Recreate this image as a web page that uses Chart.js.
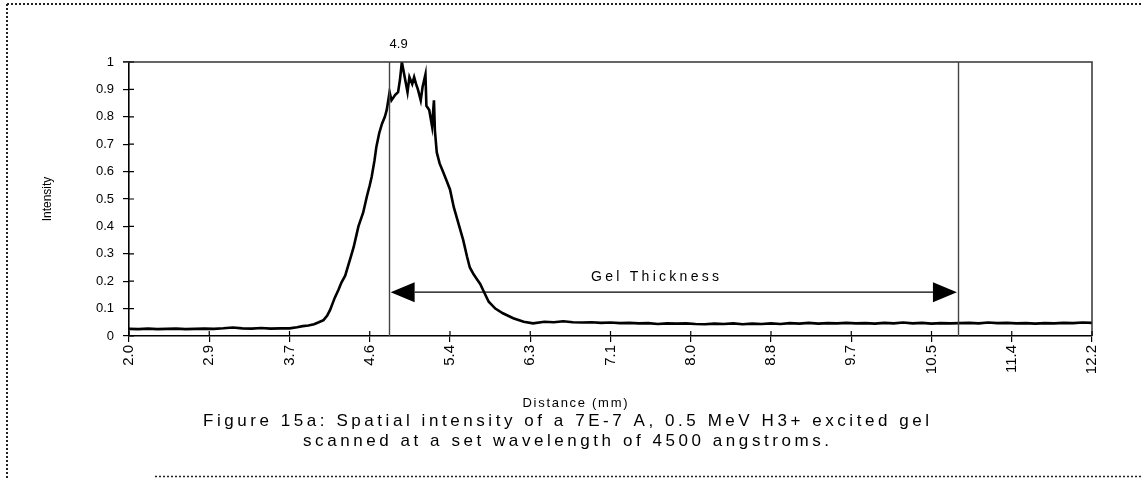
<!DOCTYPE html>
<html>
<head>
<meta charset="utf-8">
<script src="https://cdn.jsdelivr.net/npm/chart.js@4.4.1/dist/chart.umd.min.js"></script>
<style>
  html, body { margin: 0; padding: 0; background: #ffffff; }
  #wrap { position: relative; width: 1143px; height: 478px; }
  canvas { display: block; }
</style>
</head>
<body>
<div id="wrap"><canvas id="c" width="1143" height="478"></canvas></div>
<script>
// ---------- DATA ----------
const distance = [
  2.0, 2.1, 2.2, 2.3, 2.4, 2.5, 2.6, 2.7, 2.8, 2.9, 3.0, 3.1, 3.2, 3.3, 3.4, 3.5, 3.6, 3.7,
  3.78, 3.84, 3.9, 3.96, 4.01, 4.06, 4.1, 4.13, 4.18, 4.22, 4.25, 4.29, 4.32, 4.35, 4.38, 4.41,
  4.43, 4.46, 4.48, 4.52, 4.55, 4.57, 4.6, 4.62, 4.65, 4.68, 4.71, 4.73, 4.76, 4.78, 4.8, 4.82,
  4.85, 4.87, 4.89, 4.92, 4.95, 4.97, 5.0, 5.02, 5.04, 5.06, 5.09, 5.11, 5.14, 5.15, 5.18, 5.21,
  5.23, 5.24, 5.26, 5.29, 5.32, 5.36, 5.4, 5.44, 5.49, 5.54, 5.58, 5.61, 5.65, 5.68, 5.72, 5.75,
  5.81, 5.88, 5.96, 6.07, 6.18, 6.28,
  6.4, 6.5, 6.6, 6.7, 6.8, 6.9, 7.0, 7.1, 7.2, 7.3, 7.4, 7.5, 7.6, 7.7, 7.8, 7.9, 8.0, 8.1, 8.2,
  8.3, 8.4, 8.5, 8.6, 8.7, 8.8, 8.9, 9.0, 9.1, 9.2, 9.3, 9.4, 9.5, 9.6, 9.7, 9.8, 9.9, 10.0,
  10.1, 10.2, 10.3, 10.4, 10.5, 10.6, 10.7, 10.8, 10.9, 11.0, 11.1, 11.2, 11.3, 11.4, 11.5, 11.6,
  11.7, 11.8, 11.9, 12.0, 12.1, 12.2
];
const intensity = [
  0.026, 0.025, 0.027, 0.025, 0.026, 0.027, 0.025, 0.026, 0.027, 0.026, 0.028, 0.031, 0.028, 0.027, 0.029, 0.027, 0.028, 0.028,
  0.032, 0.036, 0.038, 0.043, 0.05, 0.058, 0.075, 0.095, 0.14, 0.17, 0.195, 0.22, 0.255, 0.29, 0.325, 0.37,
  0.4, 0.43, 0.45, 0.51, 0.55, 0.58, 0.64, 0.69, 0.74, 0.775, 0.8, 0.825, 0.89, 0.86, 0.87, 0.88,
  0.89, 0.935, 1.0, 0.945, 0.89, 0.945, 0.92, 0.945, 0.92, 0.9, 0.86, 0.91, 0.955, 0.84, 0.825, 0.765,
  0.86, 0.75, 0.67, 0.63, 0.605, 0.57, 0.535, 0.47, 0.41, 0.35, 0.29, 0.25, 0.225, 0.21, 0.19, 0.168,
  0.125, 0.1, 0.083, 0.065, 0.052, 0.046,
  0.052, 0.05, 0.054, 0.05, 0.049, 0.05, 0.048, 0.049, 0.047, 0.048, 0.046, 0.047, 0.044, 0.046, 0.045, 0.046, 0.044, 0.043, 0.045,
  0.044, 0.046, 0.043, 0.045, 0.044, 0.046, 0.044, 0.047, 0.045, 0.048, 0.045, 0.047, 0.046, 0.048, 0.046, 0.047, 0.045, 0.048,
  0.046, 0.049, 0.046, 0.048, 0.045, 0.047, 0.046, 0.047, 0.048, 0.046, 0.049, 0.047, 0.048, 0.046, 0.047, 0.045,
  0.047, 0.046, 0.048, 0.047, 0.049, 0.048
];
const xTickValues = [2.0, 2.85, 3.7, 4.55, 5.4, 6.25, 7.1, 7.95, 8.8, 9.65, 10.5, 11.35, 12.2];
const xTickLabels = ['2.0', '2.9', '3.7', '4.6', '5.4', '6.3', '7.1', '8.0', '8.8', '9.7', '10.5', '11.4', '12.2'];
const yTickValues = [0, 0.1, 0.2, 0.3, 0.4, 0.5, 0.6, 0.7, 0.8, 0.9, 1];
const yTickLabels = ['0', '0.1', '0.2', '0.3', '0.4', '0.5', '0.6', '0.7', '0.8', '0.9', '1'];
const markerPositions = [4.75, 10.78];   // vertical lines (mm)
const markerLabel = '4.9';
const arrowLevel = 0.16;                 // intensity level of the Gel Thickness arrow
const arrowLabel = 'Gel Thickness';
const arrowLabelLevel = 0.215;
const xTitle = 'Distance (mm)';
const yTitle = 'Intensity';
const captionLines = [
  'Figure 15a: Spatial intensity of a 7E-7 A, 0.5 MeV H3+ excited gel',
  'scanned at a set wavelength of 4500 angstroms.'
];

// ---------- DRAWING ----------
const FONT = '"Liberation Sans", Arial, sans-serif';

function spacedText(ctx, text, cx, cy, targetWidth) {
  ctx.letterSpacing = '0px';
  const w = ctx.measureText(text).width;
  const ls = (targetWidth - w) / (text.length - 1);
  ctx.letterSpacing = ls.toFixed(2) + 'px';
  ctx.fillText(text, cx + ls / 2, cy);
  ctx.letterSpacing = '0px';
}

const decorPlugin = {
  id: 'decor',
  beforeDraw(chart) {
    const ctx = chart.ctx;
    ctx.save();
    ctx.fillStyle = '#ffffff';
    ctx.fillRect(0, 0, chart.width, chart.height);
    // dotted figure frame (left, top, bottom)
    ctx.strokeStyle = '#222';
    ctx.lineWidth = 2;
    ctx.setLineDash([2, 2]);
    ctx.beginPath();
    ctx.moveTo(7, 4); ctx.lineTo(chart.width, 4);
    ctx.moveTo(7, 4); ctx.lineTo(7, chart.height);
    ctx.stroke();
    ctx.lineWidth = 1.5;
    ctx.beginPath();
    ctx.moveTo(155, 476.5); ctx.lineTo(chart.width, 476.5);
    ctx.stroke();
    ctx.restore();
  },
  afterDatasetsDraw(chart) {
    const ctx = chart.ctx;
    const xs = chart.scales.x, ys = chart.scales.y;
    const a = chart.chartArea;
    ctx.save();
    // plot frame top / right
    ctx.strokeStyle = '#333';
    ctx.lineWidth = 1.5;
    ctx.beginPath();
    ctx.moveTo(a.left - 6, a.top); ctx.lineTo(a.right, a.top); ctx.lineTo(a.right, a.bottom);
    ctx.stroke();
    // inward tick marks (cross ticks)
    ctx.strokeStyle = '#000';
    ctx.lineWidth = 1.2;
    ctx.beginPath();
    xTickValues.forEach(v => {
      const px = xs.getPixelForValue(v);
      ctx.moveTo(px, a.bottom); ctx.lineTo(px, a.bottom - 5);
    });
    yTickValues.forEach(v => {
      const py = ys.getPixelForValue(v);
      ctx.moveTo(a.left, py); ctx.lineTo(a.left + 5, py);
    });
    ctx.stroke();
    // vertical marker lines
    ctx.strokeStyle = '#444';
    ctx.lineWidth = 1.4;
    markerPositions.forEach(v => {
      const px = Math.round(xs.getPixelForValue(v)) + 0.5;
      ctx.beginPath();
      ctx.moveTo(px, a.top); ctx.lineTo(px, a.bottom);
      ctx.stroke();
    });
    // marker label
    ctx.fillStyle = '#000';
    ctx.font = '13px ' + FONT;
    ctx.textAlign = 'center';
    ctx.textBaseline = 'middle';
    ctx.fillText(markerLabel, xs.getPixelForValue(markerPositions[0]) + 10, a.top - 18);
    // double arrow
    const x1 = xs.getPixelForValue(markerPositions[0]) + 2;
    const x2 = xs.getPixelForValue(markerPositions[1]) - 1;
    const yA = ys.getPixelForValue(arrowLevel);
    const hl = 24, hw = 10;
    ctx.strokeStyle = '#000';
    ctx.lineWidth = 1.2;
    ctx.beginPath();
    ctx.moveTo(x1 + hl, yA); ctx.lineTo(x2 - hl, yA);
    ctx.stroke();
    ctx.beginPath();
    ctx.moveTo(x1, yA); ctx.lineTo(x1 + hl, yA - hw); ctx.lineTo(x1 + hl, yA + hw); ctx.closePath();
    ctx.moveTo(x2, yA); ctx.lineTo(x2 - hl, yA - hw); ctx.lineTo(x2 - hl, yA + hw); ctx.closePath();
    ctx.fill();
    // arrow label
    ctx.font = '14px ' + FONT;
    spacedText(ctx, arrowLabel, 655, ys.getPixelForValue(arrowLabelLevel), 128);
    // x axis title
    ctx.font = '13px ' + FONT;
    spacedText(ctx, xTitle, 575, 403, 105);
    // caption
    ctx.font = '17px ' + FONT;
    spacedText(ctx, captionLines[0], 566, 421, 726);
    spacedText(ctx, captionLines[1], 566, 441, 526);
    ctx.restore();
  }
};

new Chart(document.getElementById('c'), {
  type: 'line',
  data: {
    datasets: [{
      data: distance.map((d, i) => ({ x: d, y: intensity[i] })),
      borderColor: '#000',
      borderWidth: 2.6,
      pointRadius: 0,
      tension: 0,
      fill: false
    }]
  },
  options: {
    responsive: false,
    animation: false,
    devicePixelRatio: 1,
    layout: { padding: { left: 0, top: 62, right: 51, bottom: 66 } },
    plugins: { legend: { display: false }, tooltip: { enabled: false } },
    scales: {
      x: {
        type: 'linear',
        min: 2.0,
        max: 12.2,
        afterBuildTicks: s => { s.ticks = xTickValues.map(v => ({ value: v })); },
        afterFit: s => { s.height = 76; },
        ticks: {
          autoSkip: false,
          minRotation: 90,
          maxRotation: 90,
          padding: 3,
          color: '#000',
          font: { size: 15, family: FONT },
          callback: (v, i) => xTickLabels[i]
        },
        grid: { drawOnChartArea: false, drawTicks: true, tickLength: 6, color: '#000', lineWidth: 1.2 },
        border: { display: true, color: '#000', width: 1.6 },
        title: { display: false, text: xTitle }
      },
      y: {
        min: 0,
        max: 1,
        afterBuildTicks: s => { s.ticks = yTickValues.map(v => ({ value: v })); },
        afterFit: s => { s.width = 129; },
        ticks: {
          padding: 9,
          color: '#000',
          font: { size: 13, family: FONT },
          callback: (v, i) => yTickLabels[i]
        },
        grid: { drawOnChartArea: false, drawTicks: true, tickLength: 6, color: '#000', lineWidth: 1.2 },
        border: { display: true, color: '#000', width: 1.6 },
        title: { display: true, text: yTitle, color: '#000', font: { size: 12, family: FONT }, padding: { top: 40, bottom: 0 } }
      }
    }
  },
  plugins: [decorPlugin]
});
</script>
</body>
</html>
